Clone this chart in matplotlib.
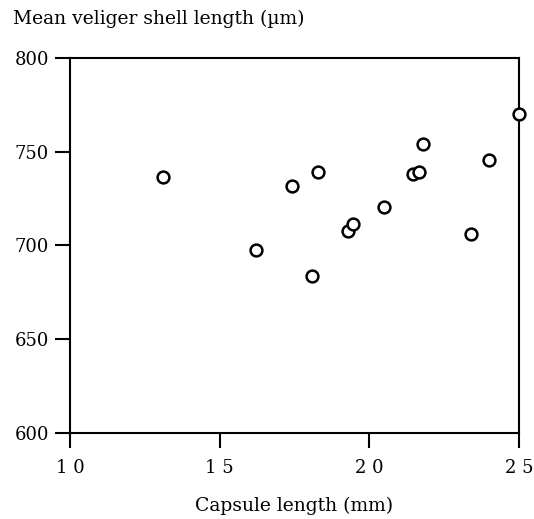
import numpy as np
import matplotlib
matplotlib.use('Agg')
import matplotlib.pyplot as plt

plt.rcParams.update({
    'font.family': ['DejaVu Serif'],
    'font.size': 13,
})

# capsule length (mm) vs mean veliger shell length (um)
capsule_len = [13.1, 16.2, 17.4, 18.3, 18.1, 19.3, 19.45, 20.5, 21.45, 21.65,
               21.8, 24.0, 23.4, 25.0]
shell_len = [736.5, 697.5, 732, 739, 683.5, 707.5, 711.5, 720.5, 738, 739,
             754, 745.5, 706, 770]
x_ticks = [10, 15, 20, 25]
y_ticks = [600, 650, 700, 750, 800]

fig = plt.figure(figsize=(5.34, 5.19), dpi=100)
ax = fig.add_axes([0.131, 0.166, 0.841, 0.722])

ax.plot(capsule_len, shell_len, linestyle='none', marker='o', markersize=8.5,
        markerfacecolor='white', markeredgecolor='black', markeredgewidth=1.8,
        clip_on=False, zorder=5)

ax.set_xlim(10, 25)
ax.set_ylim(600, 800)
ax.set_xticks(x_ticks)
ax.set_yticks(y_ticks)
ax.set_xticklabels([' '.join(str(v)) for v in x_ticks])
ax.tick_params(direction='out', length=11, width=1.5, colors='black',
               labelsize=13, pad=4)
ax.tick_params(axis='x', pad=8)
for s in ax.spines.values():
    s.set_linewidth(1.5)

ax.set_xlabel('Capsule length (mm)', fontsize=13.5, labelpad=14)
fig.text(0.024, 0.964, 'Mean veliger shell length (µm)', fontsize=13.5,
         ha='left', va='center')

plt.savefig('out.png', dpi=100)
plt.close()
